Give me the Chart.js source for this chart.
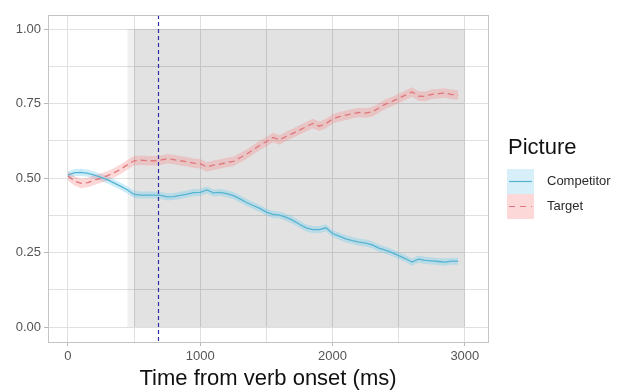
<!DOCTYPE html>
<html>
<head>
<meta charset="utf-8">
<script src="https://cdn.jsdelivr.net/npm/chart.js@4/dist/chart.umd.min.js"></script>
<style>
    body { margin: 0; background: #fff; font-family: "Liberation Sans", Arial, sans-serif; }
    #wrap { position: relative; width: 619px; height: 392px; }
    #legenda { position: absolute; left: 507px; top: 136px; color: #222; }
    #legenda .titolo { font-size: 22px; line-height: 22px; color: #111; margin-left: 1px; }
    #legenda .voce { position: absolute; left: 0; width: 120px; height: 25px; }
    #legenda .voce span { position: absolute; left: 40px; top: 4px; font-size: 13px; line-height: 16px; color: #2a2a2a; }
    #legenda svg { position: absolute; left: 0; top: 0; }
</style>
</head>
<body>
<div id="wrap">
    <canvas id="grafico" width="619" height="392"></canvas>
    <div id="legenda">
        <div class="titolo">Picture</div>
        <div class="voce" style="top:33px">
            <svg width="27" height="25"><rect width="27" height="25" fill="#d7eff9"/><line x1="2" y1="12.5" x2="25" y2="12.5" stroke="#56b4d3" stroke-width="1.2"/></svg>
            <span>Competitor</span>
        </div>
        <div class="voce" style="top:58px">
            <svg width="27" height="25"><rect width="27" height="25" fill="#fcd8d9"/><line x1="2" y1="12.5" x2="25" y2="12.5" stroke="#e0767b" stroke-width="1.2" stroke-dasharray="6,5"/></svg>
            <span>Target</span>
        </div>
    </div>
</div>
<script>
// tempo dall'inizio del verbo (ms)
var tempi = [0, 50, 100, 150, 200, 250, 300, 350, 400, 450, 500, 550, 600, 650, 700, 750, 800, 850, 900, 950,
    1000, 1050, 1100, 1150, 1200, 1250, 1300, 1350, 1400, 1450, 1500, 1550, 1600, 1650, 1700, 1750, 1800, 1850, 1900, 1950,
    2000, 2050, 2100, 2150, 2200, 2250, 2300, 2350, 2400, 2450, 2500, 2550, 2600, 2650, 2700, 2750, 2800, 2850, 2900, 2950];

// proporzione di sguardi
var target = [0.507, 0.490, 0.482, 0.485, 0.493, 0.500, 0.508, 0.518, 0.530, 0.545, 0.558, 0.560, 0.558, 0.558, 0.560, 0.565, 0.562, 0.558, 0.555, 0.550,
    0.548, 0.537, 0.543, 0.547, 0.552, 0.556, 0.568, 0.580, 0.595, 0.610, 0.622, 0.636, 0.628, 0.640, 0.650, 0.661, 0.672, 0.683, 0.674, 0.683,
    0.698, 0.706, 0.711, 0.716, 0.720, 0.718, 0.722, 0.735, 0.748, 0.757, 0.767, 0.778, 0.789, 0.775, 0.774, 0.781, 0.783, 0.785, 0.780, 0.779];
var competitor = [0.510, 0.518, 0.519, 0.516, 0.510, 0.502, 0.494, 0.483, 0.472, 0.460, 0.445, 0.443, 0.443, 0.443, 0.442, 0.437, 0.438, 0.442, 0.446, 0.451,
    0.452, 0.460, 0.450, 0.452, 0.448, 0.441, 0.430, 0.418, 0.408, 0.398, 0.386, 0.378, 0.376, 0.368, 0.358, 0.345, 0.333, 0.327, 0.327, 0.333,
    0.314, 0.305, 0.296, 0.290, 0.285, 0.282, 0.276, 0.265, 0.258, 0.250, 0.240, 0.230, 0.218, 0.228, 0.224, 0.222, 0.220, 0.218, 0.221, 0.221];

// mezza larghezza della banda d'errore
var erroreTarget = 0.016;
var erroreCompetitor = 0.012;

var xTicks = [0, 1000, 2000, 3000];
var xMinori = [500, 1500, 2500];
var yTicks = [0, 0.25, 0.5, 0.75, 1];
var yMinori = [0.125, 0.375, 0.625, 0.875];

// finestra di analisi (zona grigia) e linea tratteggiata
var finestraInizio = [450, 500];
var finestraFine = 3000;
var lineaVerticale = 680;

function punti(valori, delta) {
    var out = [];
    for (var i = 0; i < tempi.length; i++) {
        out.push({ x: tempi[i], y: valori[i] + delta });
    }
    return out;
}

var zonaGrigia = {
    id: 'zonaGrigia',
    beforeDatasetsDraw: function (chart) {
        var ctx = chart.ctx, x = chart.scales.x, y = chart.scales.y;
        ctx.save();
        ctx.fillStyle = 'rgba(0,0,0,0.06)';
        for (var i = 0; i < finestraInizio.length; i++) {
            var x0 = x.getPixelForValue(finestraInizio[i]);
            var x1 = x.getPixelForValue(finestraFine);
            var y0 = y.getPixelForValue(1);
            var y1 = y.getPixelForValue(0);
            ctx.fillRect(x0, y0, x1 - x0, y1 - y0);
        }
        ctx.restore();
    },
    afterDatasetsDraw: function (chart) {
        var ctx = chart.ctx, a = chart.chartArea, x = chart.scales.x;
        ctx.save();
        // linea verticale tratteggiata
        var lx = Math.round(x.getPixelForValue(lineaVerticale)) + 0.5;
        ctx.strokeStyle = '#2e2ea6';
        ctx.lineWidth = 1.2;
        ctx.setLineDash([4, 3]);
        ctx.beginPath();
        ctx.moveTo(lx, a.top);
        ctx.lineTo(lx, a.bottom);
        ctx.stroke();
        // bordo del pannello
        ctx.setLineDash([]);
        ctx.strokeStyle = '#c4c4c4';
        ctx.lineWidth = 1;
        ctx.strokeRect(Math.round(a.left) + 0.5, Math.round(a.top) + 0.5, Math.round(a.right - a.left), Math.round(a.bottom - a.top));
        ctx.restore();
    }
};

var nessuno = 'rgba(0,0,0,0)';

var ctx = document.getElementById('grafico');
var chart = new Chart(ctx, {
    type: 'line',
    data: {
        datasets: [
            { data: punti(competitor, -erroreCompetitor), borderColor: nessuno, borderWidth: 0, pointRadius: 0, fill: false, order: 2 },
            { data: punti(competitor, erroreCompetitor), borderColor: nessuno, borderWidth: 0, pointRadius: 0, fill: '-1', backgroundColor: 'rgba(110,200,235,0.35)', order: 2 },
            { data: punti(target, -erroreTarget), borderColor: nessuno, borderWidth: 0, pointRadius: 0, fill: false, order: 1 },
            { data: punti(target, erroreTarget), borderColor: nessuno, borderWidth: 0, pointRadius: 0, fill: '-1', backgroundColor: 'rgba(245,125,130,0.3)', order: 1 },
            { label: 'Competitor', data: punti(competitor, 0), borderColor: '#56b4d3', borderWidth: 1.3, pointRadius: 0, fill: false, order: 0 },
            { label: 'Target', data: punti(target, 0), borderColor: '#e0767b', borderWidth: 1.3, borderDash: [6, 4], pointRadius: 0, fill: false, order: 0 }
        ]
    },
    options: {
        responsive: false,
        animation: false,
        layout: { padding: { top: 15, right: 131, left: 0, bottom: 0 } },
        plugins: { legend: { display: false }, tooltip: { enabled: false } },
        scales: {
            x: {
                type: 'linear',
                min: -151,
                max: 3175,
                afterFit: function (scale) { scale.height = 50; },
                afterBuildTicks: function (scale) {
                    scale.ticks = xTicks.concat(xMinori).map(function (v) { return { value: v }; });
                },
                ticks: {
                    autoSkip: false,
                    maxRotation: 0,
                    padding: 3,
                    color: '#555',
                    font: { family: 'Liberation Sans', size: 13 },
                    callback: function (v) { return xTicks.indexOf(v) >= 0 ? String(v) : ''; }
                },
                grid: {
                    color: '#e0e0e0',
                    tickLength: 4,
                    tickColor: function (c) { return xTicks.indexOf(c.tick.value) >= 0 ? '#b8b8b8' : nessuno; }
                },
                border: { display: false },
                title: {
                    display: true,
                    text: 'Time from verb onset (ms)',
                    color: '#111',
                    font: { family: 'Liberation Sans', size: 22 },
                    padding: { top: 0, bottom: 0 }
                }
            },
            y: {
                min: -0.05,
                max: 1.047,
                afterFit: function (scale) { scale.width = 48; },
                afterBuildTicks: function (scale) {
                    scale.ticks = yTicks.concat(yMinori).map(function (v) { return { value: v }; });
                },
                ticks: {
                    autoSkip: false,
                    padding: 3,
                    color: '#555',
                    font: { family: 'Liberation Sans', size: 13 },
                    callback: function (v) { return yTicks.indexOf(v) >= 0 ? v.toFixed(2) : ''; }
                },
                grid: {
                    color: '#e0e0e0',
                    tickLength: 4,
                    tickColor: function (c) { return yTicks.indexOf(c.tick.value) >= 0 ? '#b8b8b8' : nessuno; }
                },
                border: { display: false }
            }
        }
    },
    plugins: [zonaGrigia]
});
</script>
</body>
</html>
